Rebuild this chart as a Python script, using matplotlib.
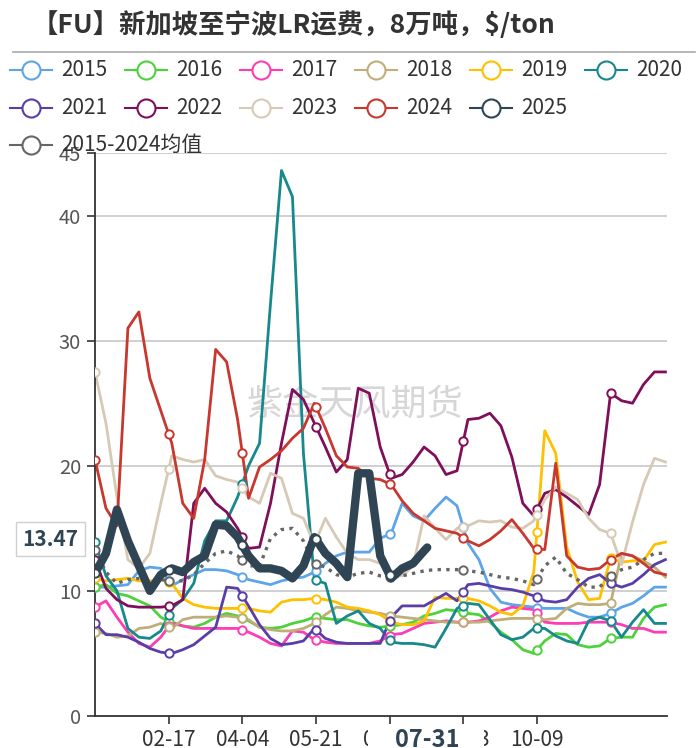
"""FU freight chart: Singapore -> Ningbo LR, 80kt, $/ton, seasonal by year."""

import numpy as np
import matplotlib

matplotlib.use("Agg")
import matplotlib.pyplot as plt  # noqa: E402
from matplotlib.lines import Line2D  # noqa: E402
from matplotlib.patches import Rectangle  # noqa: E402

plt.rcParams["font.family"] = ["Noto Sans CJK SC", "DejaVu Sans"]

# ---------- Data (weekly readings, day-of-year on a 366-day axis) ----------

DAYS = np.arange(0, 366, 7)  # 53 points, 0..364
DAYS_2025 = np.append(np.arange(0, 211, 7), 212)  # up to 07-31

Y2015 = [10.3, 10.3, 10.4, 10.5, 11.6, 11.9, 11.8, 10.4, 10.9, 11.3, 11.7, 11.7, 11.6, 11.3,
         10.9, 10.7, 10.5, 10.8, 11.0, 11.1, 11.5, 12.2, 12.8, 13.1, 13.1, 13.1, 14.2, 14.6,
         17.0, 16.0, 15.6, 16.6, 17.5, 16.8, 13.8, 12.5, 10.2, 9.1, 8.9, 8.8, 8.7, 8.6, 8.6,
         8.6, 8.2, 7.9, 7.9, 8.2, 8.7, 9.0, 9.6, 10.3, 10.3]
Y2016 = [10.3, 10.5, 9.8, 9.6, 9.2, 8.8, 7.9, 7.4, 7.2, 7.1, 7.4, 7.9, 8.2, 8.0,
         7.6, 7.1, 7.0, 7.1, 7.4, 7.6, 7.9, 7.8, 7.7, 7.7, 7.4, 7.2, 7.1, 7.2,
         7.3, 7.5, 8.0, 8.2, 8.5, 8.4, 8.2, 8.1, 7.5, 6.7, 6.1, 5.3, 5.0, 6.0, 6.6,
         6.5, 5.7, 5.5, 5.6, 6.2, 6.3, 6.3, 7.8, 8.7, 8.9]
Y2017 = [8.7, 9.2, 7.9, 6.7, 5.8, 5.5, 6.3, 7.5, 7.2, 7.0, 7.0, 7.0, 7.0, 7.0,
         6.7, 6.3, 5.8, 5.6, 6.8, 6.7, 6.1, 5.9, 5.8, 5.8, 5.8, 5.8, 6.0, 6.5,
         6.6, 7.0, 7.4, 7.5, 7.6, 7.5, 7.5, 7.6, 7.9, 8.4, 8.7, 8.6, 8.5, 7.5, 7.4,
         7.4, 7.4, 7.5, 7.5, 7.5, 7.3, 7.0, 7.0, 6.7, 6.7]
Y2018 = [6.7, 6.6, 6.3, 6.4, 7.0, 7.1, 7.4, 7.0, 7.7, 7.9, 7.9, 7.9, 8.0, 7.9,
         7.7, 7.1, 6.9, 6.8, 6.8, 7.0, 7.4, 8.1, 8.7, 8.6, 8.4, 8.3, 8.2, 8.0,
         7.9, 7.8, 7.7, 7.6, 7.5, 7.5, 7.5, 7.5, 7.6, 7.7, 7.8, 7.8, 7.8, 7.7, 7.8,
         8.6, 9.0, 8.9, 8.9, 9.0, 13.0, 12.8, 12.4, 11.9, 11.1]
Y2019 = [11.0, 10.8, 10.9, 11.0, 10.8, 10.8, 10.9, 10.6, 9.4, 8.9, 8.7, 8.6, 8.6, 8.6,
         8.6, 8.4, 8.3, 9.1, 9.3, 9.3, 9.4, 9.3, 9.1, 8.7, 8.6, 8.4, 8.1, 7.5,
         7.3, 7.3, 7.6, 9.5, 9.4, 9.4, 9.4, 9.2, 8.8, 8.3, 8.1, 8.8, 11.5, 22.8, 21.0,
         13.5, 10.7, 9.3, 9.4, 12.6, 12.3, 12.4, 12.4, 13.7, 13.9]
Y2020 = [13.9, 11.2, 10.0, 7.0, 6.3, 6.2, 6.8, 8.6, 9.3, 10.6, 14.0, 15.6, 15.6, 17.5,
         20.0, 21.8, 33.0, 43.6, 41.5, 21.0, 10.9, 10.6, 7.4, 8.0, 8.4, 7.4, 7.0, 5.9,
         5.8, 5.8, 5.7, 5.5, 7.0, 8.6, 9.0, 8.9, 7.7, 6.5, 6.1, 6.3, 7.0, 7.0, 6.4,
         6.0, 5.8, 7.6, 7.9, 7.6, 6.3, 7.5, 8.5, 7.4, 7.4]
Y2021 = [7.4, 6.5, 6.5, 6.3, 5.9, 5.4, 5.1, 5.0, 5.3, 5.7, 6.4, 7.1, 10.3, 10.2,
         8.8, 7.3, 6.2, 5.7, 5.8, 6.0, 7.0, 6.2, 5.9, 5.8, 5.8, 5.8, 5.8, 7.9,
         8.8, 8.8, 8.8, 9.3, 9.8, 9.2, 10.5, 10.6, 10.4, 10.2, 10.1, 9.9, 9.6, 9.2, 9.1,
         9.3, 10.3, 11.0, 11.3, 10.6, 10.3, 10.6, 11.3, 12.1, 12.5]
Y2022 = [12.5, 10.2, 9.3, 8.8, 8.7, 8.7, 8.7, 8.8, 9.3, 17.0, 18.2, 17.0, 16.3, 15.0,
         13.4, 13.5, 17.0, 21.8, 26.1, 25.3, 23.4, 21.5, 19.5, 20.5, 26.2, 25.8, 21.5, 19.0,
         19.3, 20.3, 21.5, 20.8, 19.3, 19.6, 23.7, 23.8, 24.2, 23.2, 20.7, 17.0, 16.0, 17.8, 18.1,
         17.5, 16.8, 16.1, 18.5, 25.8, 25.2, 25.0, 26.5, 27.5, 27.5]
Y2023 = [27.5, 23.4, 17.5, 12.5, 11.8, 13.0, 17.0, 20.8, 20.5, 20.3, 20.5, 19.2, 18.9, 18.7,
         17.5, 17.0, 19.4, 19.0, 16.2, 15.8, 13.7, 15.8, 14.3, 13.0, 12.5, 12.5, 12.2, 11.2,
         11.2, 12.0, 16.0, 15.0, 14.1, 15.0, 15.2, 15.6, 15.5, 15.6, 15.1, 15.0, 15.6, 17.3, 18.3,
         17.8, 17.3, 15.8, 14.9, 14.6, 12.1, 15.5, 18.5, 20.6, 20.3]
Y2024 = [20.5, 16.6, 15.2, 31.0, 32.3, 27.0, 24.4, 21.8, 17.0, 15.8, 20.5, 29.3, 28.3, 23.7,
         17.4, 19.9, 20.5, 21.2, 22.2, 23.0, 25.0, 23.0, 20.8, 19.9, 19.8, 19.0, 18.9, 18.5,
         17.2, 16.2, 15.6, 15.0, 14.8, 14.6, 14.0, 13.6, 14.1, 14.8, 15.7, 14.6, 13.4, 13.3, 20.2,
         12.8, 11.9, 11.7, 11.8, 12.5, 13.0, 12.8, 12.2, 11.5, 11.3]
Y2025 = [11.4, 13.0, 16.5, 14.0, 12.0, 10.0, 11.3, 11.8, 11.5, 12.3, 12.8, 15.3, 15.2, 14.3,
         12.8, 11.8, 11.8, 11.6, 11.0, 12.0, 14.3, 13.0, 12.2, 11.1, 19.4, 19.4, 12.8, 11.0,
         11.8, 12.2, 13.2, 13.47]
MEAN = [13.3, 11.5, 10.6, 10.9, 11.0, 10.9, 10.9, 10.8, 10.8, 11.3, 12.2, 13.0, 13.2, 12.8,
        12.0, 12.0, 14.2, 14.9, 15.0, 14.0, 12.2, 11.9, 11.3, 11.1, 11.4, 11.5, 11.2, 11.1,
        11.2, 11.4, 11.6, 11.7, 11.7, 11.7, 11.6, 11.5, 11.3, 11.1, 11.0, 10.8, 10.5, 12.0, 12.7,
        11.4, 10.9, 10.3, 10.3, 11.2, 11.7, 11.9, 12.5, 13.0, 13.0]

SERIES = [
    ("2015", Y2015, "#5da5e8"),
    ("2016", Y2016, "#4dd23c"),
    ("2017", Y2017, "#fd3db5"),
    ("2018", Y2018, "#bfae78"),
    ("2019", Y2019, "#ffc000"),
    ("2020", Y2020, "#17888c"),
    ("2021", Y2021, "#5a3ea8"),
    ("2022", Y2022, "#7f0f5a"),
    ("2023", Y2023, "#d6c9b5"),
    ("2024", Y2024, "#c8382f"),
]
COLOR_2025 = "#2f4554"
COLOR_MEAN = "#666666"

# category axis of a leap year, labels every 47 days
TICK_DAYS = [47, 94, 141, 188, 235, 282]
TICK_LABELS = ["02-17", "04-04", "05-21", "07-07", "08-23", "10-09"]
MARK_DAYS = np.array([0, 47, 94, 141, 188, 235, 282, 329])
POINTER_DAY = 212
POINTER_LABEL = "07-31"
LAST_VALUE = 13.47


def markers(ax, days, vals, color, zorder, upto=365):
    md = MARK_DAYS[MARK_DAYS <= upto]
    ax.plot(md, np.interp(md, days, vals), ls="none", marker="o", ms=6,
            mfc="white", mec=color, mew=1.4, zorder=zorder)


fig = plt.figure(figsize=(7, 7.48), dpi=100)
ax = fig.add_axes([95 / 700, 32 / 748, 572 / 700, 563 / 748])

for i, (name, vals, color) in enumerate(SERIES):
    ax.plot(DAYS, vals, color=color, lw=2.0, zorder=2 + i * 0.01)
    markers(ax, DAYS, vals, color, 3)

ax.plot(DAYS, MEAN, color=COLOR_MEAN, lw=2.4, ls=(0, (1, 1.6)), zorder=4)
markers(ax, DAYS, MEAN, COLOR_MEAN, 4.1)
ax.plot(DAYS_2025, Y2025, color=COLOR_2025, lw=6, zorder=5,
        solid_capstyle="round", solid_joinstyle="round")
markers(ax, DAYS_2025, Y2025, COLOR_2025, 5.1, upto=POINTER_DAY)

ax.set_xlim(0, 365)
ax.set_ylim(0, 45)
ax.set_yticks([0, 10, 20, 30, 40, 45])
ax.set_xticks(TICK_DAYS)
ax.set_xticklabels(TICK_LABELS)
ax.tick_params(axis="y", labelsize=14.5, labelcolor="#555555", length=6,
               width=1.2, color="#333333", pad=4)
ax.tick_params(axis="x", labelsize=15, labelcolor="#333333", length=6,
               width=1.2, color="#333333", pad=3)
for y in [10, 20, 30, 40, 45]:
    ax.axhline(y, color="#cccccc", lw=1.3, zorder=0)
for side in ["top", "right"]:
    ax.spines[side].set_visible(False)
for side in ["left", "bottom"]:
    ax.spines[side].set_color("#333333")
    ax.spines[side].set_linewidth(1.3)
ax.set_facecolor("none")

# watermark
ax.text(0.455, 0.552, "紫金天风期货", transform=ax.transAxes, fontsize=26,
        color="#d6d6d6", ha="center", va="center", zorder=0.5)

# axis pointer labels: white plate over the x labels, then the date
ax.add_patch(Rectangle((POINTER_DAY - 38, -0.07), 74, 0.052,
                       transform=ax.get_xaxis_transform(), fc="white", ec="none",
                       clip_on=False, zorder=9))
ax.annotate(POINTER_LABEL, xy=(POINTER_DAY, 0), xycoords=ax.get_xaxis_transform(),
            xytext=(0, -17), textcoords="offset points", ha="center", va="center",
            fontsize=17, fontweight="bold", color=COLOR_2025, zorder=10,
            annotation_clip=False)
ax.annotate(f"{LAST_VALUE:.2f}", xy=(0, LAST_VALUE), xycoords=ax.get_yaxis_transform(),
            xytext=(-12, 6), textcoords="offset points", ha="right", va="center",
            fontsize=15, fontweight="bold", color=COLOR_2025,
            bbox=dict(boxstyle="square,pad=0.3", fc="white", ec="#d0d0d0", lw=1),
            zorder=10, annotation_clip=False)

# title and rule
fig.text(32 / 700, 1 - 25 / 748, "【FU】新加坡至宁波LR运费，8万吨，$/ton",
         fontsize=19, fontweight="bold", color="#333333", va="center", ha="left")
fig.add_artist(Line2D([13 / 700, 695 / 700], [1 - 52 / 748] * 2, color="#aaaaaa", lw=1.2))

# legend drawn by hand in echarts row order
legend_items = [(n, c) for n, _, c in SERIES] + [("2025", COLOR_2025), ("2015-2024均值", COLOR_MEAN)]
rows = [legend_items[:6], legend_items[6:11], legend_items[11:]]
for r, row in enumerate(rows):
    yy = 1 - (70 + 37.5 * r) / 748
    for c, (name, color) in enumerate(row):
        x0 = (10 + 115 * c) / 700
        fig.add_artist(Line2D([x0, x0 + 42 / 700], [yy, yy], color=color, lw=1.5))
        fig.add_artist(Line2D([x0 + 21 / 700], [yy], marker="o", ms=13, mfc="white",
                              mec=color, mew=1.5))
        fig.text(x0 + 51 / 700, yy, name, fontsize=15, color="#333333",
                 va="center", ha="left")

fig.savefig("out.png", dpi=100)
